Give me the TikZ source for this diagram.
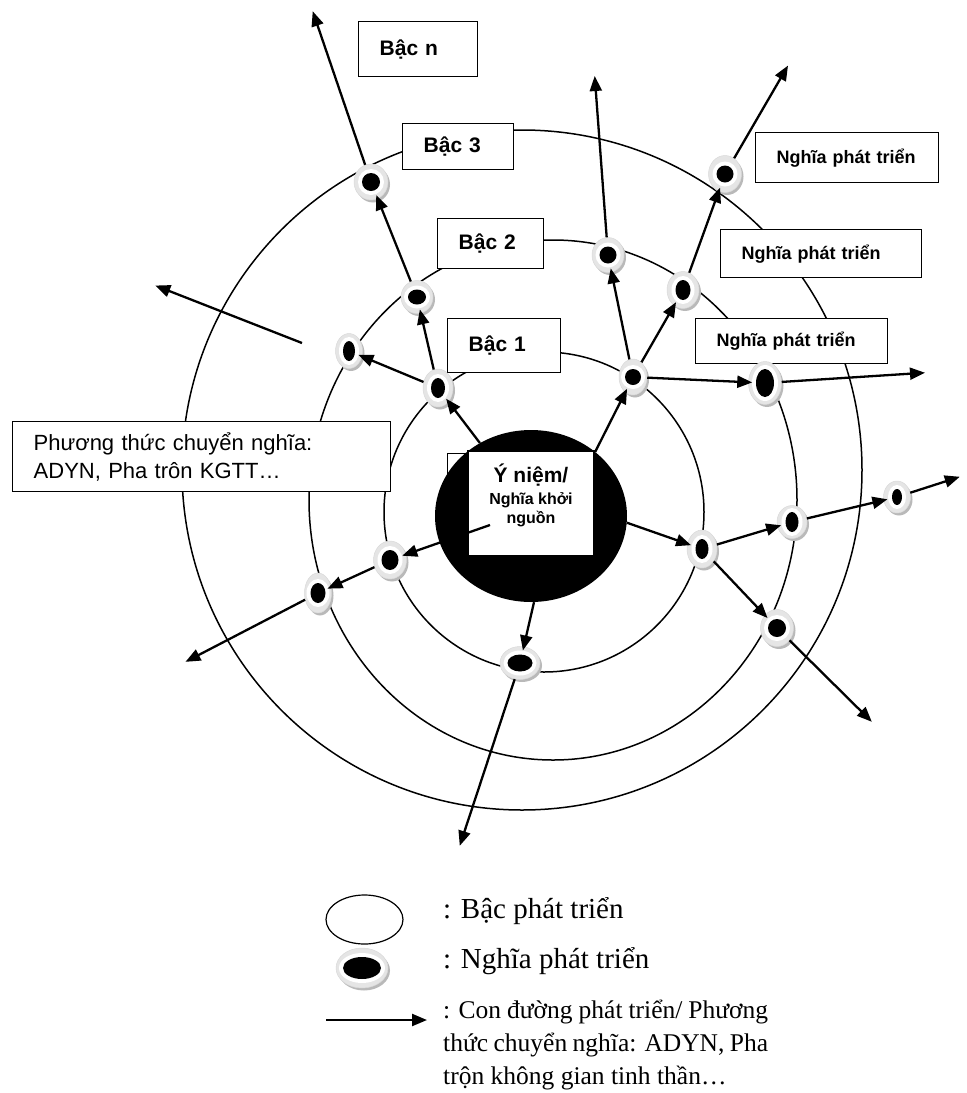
\documentclass[tikz,border=0pt]{standalone}
\usepackage{fontspec}
\setmainfont{Liberation Sans}
\newfontfamily\legfont{Liberation Serif}
\usetikzlibrary{arrows.meta,shapes.geometric,shadows}

\tikzset{
  ring/.style={line width=1.5pt},
  route/.style={line width=2.3pt, -{Triangle[length=15pt,width=12pt]}, shorten >=-4pt},
  lbl/.style 2 args={draw, fill=white, line width=1.4pt, anchor=north west, inner xsep=21pt,
    inner ysep=0pt, align=left, text width=#1, minimum height=#2},
  bac/.style={font=\bfseries\fontsize{21}{24}\selectfont},
  nptr/.style={font=\bfseries\fontsize{18}{21}\selectfont},
  npoint/.style n args={4}{ellipse, inner sep=0pt, minimum width=#1, minimum height=#2,
    fill=gray!20, draw=gray!30, line width=0.5pt,
    drop shadow={shadow xshift=2pt, shadow yshift=-2.5pt, fill=gray!55, opacity=1},
    path picture={
      \fill[white] (path picture bounding box.center) ellipse [x radius=#3/2+4pt, y radius=#4/2+4pt];
      \fill[black] (path picture bounding box.center) ellipse [x radius=#3/2, y radius=#4/2];}},
}

\begin{document}
\begin{tikzpicture}[x=1pt,y=-1pt]
\useasboundingbox (0,0) rectangle (967,1093);

% Rings
\draw[ring] (544,512) circle [radius=160pt];
\draw[ring] (553,500) ellipse [x radius=244pt, y radius=260pt];
\draw[ring] (522,470) circle [radius=340pt];

% Core
\draw[line width=1pt] (447,453) rectangle (520,540);
\node[ellipse, fill=black, minimum width=192pt, minimum height=172pt, inner sep=0pt] (core) at (531,516) {};
\node[draw, fill=white, line width=1.2pt, minimum width=126pt, minimum height=105pt, inner sep=0pt] (coreBox) at (531,503.5) {};
\node[font=\bfseries\fontsize{16}{19.5}\selectfont, align=center, anchor=north, inner sep=0pt] (coreTxt) at (531,464)
  {{\fontsize{21}{24}\selectfont Ý niệm/}\\[2pt]Nghĩa khởi\\nguồn};

% Labels
\node[lbl={77pt}{55pt}, bac] (bacN) at (358,21) {Bậc n};
\node[lbl={69pt}{46pt}, bac] (bac3) at (402,123) {Bậc 3};
\node[lbl={64pt}{50pt}, bac] (bac2) at (437,218) {Bậc 2};
\node[lbl={71pt}{54pt}, bac] (bac1) at (447,318) {Bậc 1};
\node[lbl={141pt}{50pt}, nptr] (npt1) at (755,132) {Nghĩa phát triển};
\node[lbl={159pt}{48pt}, nptr] (npt2) at (720,229) {Nghĩa phát triển};
\node[lbl={150pt}{45pt}, nptr] (npt3) at (695,318) {Nghĩa phát triển};
\node[lbl={336pt}{70pt}, font=\fontsize{22}{28}\selectfont] (ptc) at (12,421)
  {Phương thức chuyển nghĩa:\\ADYN, Pha trôn KGTT…};

% Meanings
\node[npoint={34pt}{36pt}{18pt}{18pt}] (nUL3) at (371,182) {};
\node[npoint={32pt}{33pt}{18pt}{15pt}] (nUL2) at (417,297) {};
\node[npoint={30pt}{38pt}{14pt}{20pt}] (nUL1) at (438,388) {};
\node[npoint={27pt}{35pt}{12pt}{20pt}] (nL2) at (349,351) {};
\node[npoint={33pt}{38pt}{17pt}{20pt}] (nL1) at (390,560) {};
\node[npoint={27pt}{40pt}{15pt}{20pt}] (nL2b) at (318,593) {};
\node[npoint={40pt}{33pt}{25pt}{17pt}] (nB) at (520,663) {};
\node[npoint={28pt}{36pt}{16pt}{16pt}] (nU1) at (633,377) {};
\node[npoint={32pt}{35pt}{17pt}{17pt}] (nU2) at (608,255) {};
\node[npoint={32pt}{37pt}{15pt}{20pt}] (nU3) at (683,290) {};
\node[npoint={33pt}{37pt}{17pt}{17pt}] (nU4) at (725,174) {};
\node[npoint={33pt}{43pt}{18pt}{28pt}] (nR2c) at (765,383) {};
\node[npoint={30pt}{38pt}{13pt}{20pt}] (nR1) at (702,549) {};
\node[npoint={30pt}{33pt}{13pt}{20pt}] (nR2) at (792,522) {};
\node[npoint={27pt}{32pt}{10pt}{16pt}] (nR3) at (897,497) {};
\node[npoint={33pt}{37pt}{18pt}{18pt}] (nR2b) at (777,628) {};

% Free ends
\coordinate (eUL) at (314,15);
\coordinate (eU2) at (595,80);
\coordinate (eU4) at (786,69);
\coordinate (eR2c) at (921,373);
\coordinate (eR3) at (956,478);
\coordinate (eR2b) at (869,719);
\coordinate (eB) at (461,842);
\coordinate (eL) at (189,660);
\coordinate (fa1) at (302,343);
\coordinate (fa2) at (159,287);
\coordinate (c1) at (490,525);

% Routes
\draw[route] (core.125) -- (nUL1);
\draw[route] (nUL1) -- (nUL2);
\draw[route] (nUL2) -- (nUL3);
\draw[route] (nUL3) -- (eUL);
\draw[route] (nUL1) -- (nL2);
\draw[route] (fa1) -- (fa2);
\draw[route] (c1) -- (nL1);
\draw[route] (nL1) -- (nL2b);
\draw[route] (nL2b) -- (eL);
\draw[route] (core.-88) -- (nB);
\draw[route] (nB) -- (eB);
\draw[route] (core.-4) -- (nR1);
\draw[route] (nR1) -- (nR2);
\draw[route] (nR2) -- (nR3);
\draw[route] (nR3) -- (eR3);
\draw[route] (nR1) -- (nR2b);
\draw[route] (nR2b) -- (eR2b);
\draw[route] (core.45) -- (nU1);
\draw[route] (nU1) -- (nR2c);
\draw[route] (nR2c) -- (eR2c);
\draw[route] (nU1) -- (nU2);
\draw[route] (nU2) -- (eU2);
\draw[route] (nU1) -- (nU3);
\draw[route] (nU3) -- (nU4);
\draw[route] (nU4) -- (eU4);

% Legend
\node[ellipse, draw, line width=1.2pt, minimum width=77pt, minimum height=49pt] (legBac) at (364.5,919.5) {};
\node[npoint={52pt}{40pt}{38pt}{22pt}] (legNghia) at (362,968) {};
\coordinate (legA) at (326,1020);
\coordinate (legB) at (427,1020);
\draw[route, shorten >=0pt] (legA) -- (legB);
\node[anchor=base west, inner sep=0pt, font=\legfont\fontsize{29}{33}\selectfont] (legT1) at (443,918) {: Bậc phát triển};
\node[anchor=base west, inner sep=0pt, font=\legfont\fontsize{29}{33}\selectfont] (legT2) at (443,968) {: Nghĩa phát triển};
\node[anchor=base west, inner sep=0pt, font=\legfont\fontsize{25.5}{33.3}\selectfont] (legT3) at (443,1018)
  {\parbox[t]{325pt}{\makebox[325pt][s]{: Con đường phát triển/ Phương}\\
  \makebox[325pt][s]{thức chuyển nghĩa: ADYN, Pha}\\
  trộn không gian tinh thần…}};
\end{tikzpicture}
\end{document}
